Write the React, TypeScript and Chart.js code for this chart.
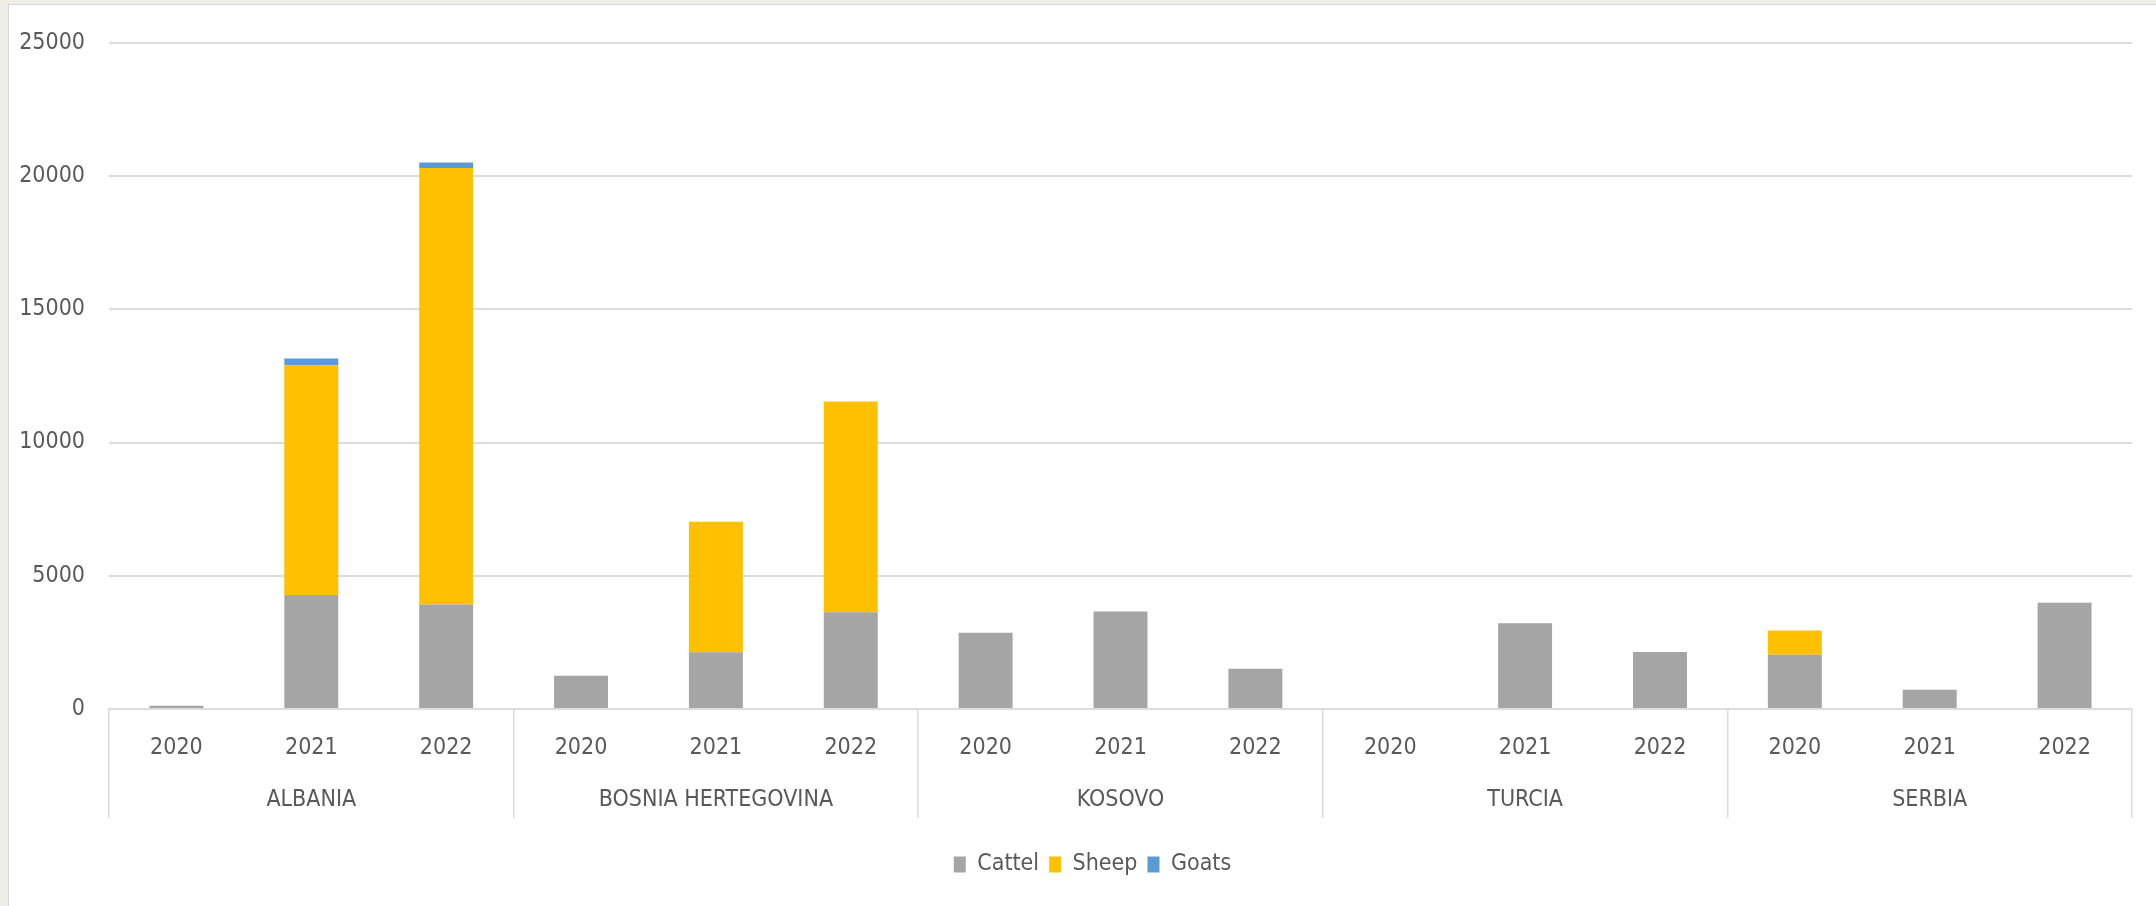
import React, { useEffect, useRef } from "react";
import { Chart, registerables } from "chart.js";

Chart.register(...registerables);

const countries = ["ALBANIA", "BOSNIA HERTEGOVINA", "KOSOVO", "TURCIA", "SERBIA"];
const years = ["2020", "2021", "2022"];
const cattle = [120, 4280, 3925, 1250, 2130, 3630, 2860, 3660, 1515, 0, 3220, 2140, 2040, 720, 3990];
const sheep = [0, 8620, 16380, 0, 4900, 7910, 0, 0, 0, 0, 0, 0, 910, 0, 0];
const goats = [0, 250, 200, 0, 0, 0, 0, 0, 0, 0, 0, 0, 0, 0, 0];
const yMax = 25000;
const yStep = 5000;

const FONT = "'DejaVu Sans Condensed', 'Liberation Sans Narrow', 'DejaVu Sans', sans-serif";
const TEXT = "#595959";
const GRID = "#DCDCDC";

const legendShift = {
  id: "legendShift",
  afterLayout(chart: any) {
    if (chart.legend) {
      chart.legend.left += 18;
      chart.legend.right += 18;
    }
  },
};

export default function App() {
  const ref = useRef<HTMLCanvasElement | null>(null);

  useEffect(() => {
    if (!ref.current) return;
    const labels: string[][] = [];
    countries.forEach((c) => {
      years.forEach((y, j) => {
        labels.push(j === 1 ? [y, c] : [y, ""]);
      });
    });
    const chart = new Chart(ref.current, {
      type: "bar",
      data: {
        labels,
        datasets: [
          { label: "Cattel", data: cattle, backgroundColor: "#A5A5A5" },
          { label: "Sheep", data: sheep, backgroundColor: "#FFC000" },
          { label: "Goats", data: goats, backgroundColor: "#5B9BD5" },
        ],
      },
      plugins: [legendShift],
      options: {
        animation: false,
        responsive: true,
        maintainAspectRatio: false,
        devicePixelRatio: 1,
        datasets: { bar: { categoryPercentage: 1, barPercentage: 0.4 } },
        layout: { padding: { left: 8, right: 24, top: 22, bottom: 20 } },
        plugins: {
          tooltip: { enabled: false },
          legend: {
            position: "bottom",
            labels: {
              font: { family: FONT, size: 23 },
              color: TEXT,
              boxWidth: 12,
              boxHeight: 16,
              padding: 10,
            },
          },
        },
        scales: {
          x: {
            stacked: true,
            afterFit: (s: any) => {
              s.height = 134;
            },
            border: { display: true, color: GRID, width: 2 },
            grid: {
              drawOnChartArea: false,
              drawTicks: true,
              tickLength: 109,
              lineWidth: 1.5,
              color: (ctx: any) =>
                ctx.index === undefined || ctx.index % 3 === 0 ? GRID : "rgba(0,0,0,0)",
            },
            ticks: {
              autoSkip: false,
              maxRotation: 0,
              minRotation: 0,
              padding: -95.5,
              color: TEXT,
              font: { family: FONT, size: 23, lineHeight: 2.243 },
            },
          },
          y: {
            stacked: true,
            min: 0,
            max: yMax,
            afterFit: (s: any) => {
              s.width = 92;
            },
            border: { display: false },
            grid: { color: GRID, lineWidth: 2, drawTicks: false },
            ticks: {
              stepSize: yStep,
              padding: 24,
              color: TEXT,
              font: { family: FONT, size: 23 },
              callback: (v: any) => String(v),
            },
          },
        },
      },
    });
    return () => chart.destroy();
  }, []);

  return (
    <div
      style={{
        position: "fixed",
        left: 0,
        top: 0,
        width: 2156,
        height: 906,
        background: "#EEEDE8",
        overflow: "hidden",
      }}
    >
      <div
        style={{
          position: "absolute",
          left: 8,
          top: 4,
          right: 0,
          bottom: 0,
          background: "#FFFFFF",
          borderLeft: "1px solid #D6D6D2",
          borderTop: "1px solid #D6D6D2",
        }}
      >
        <div style={{ position: "absolute", left: 0, top: 0, width: 2147, height: 901 }}>
          <canvas ref={ref} />
        </div>
      </div>
    </div>
  );
}
